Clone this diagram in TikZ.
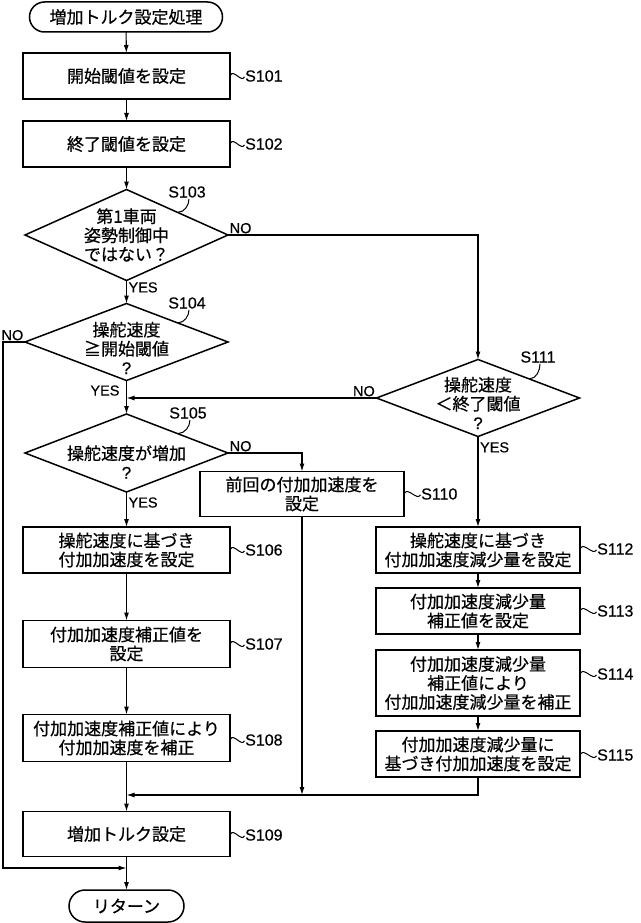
\documentclass[tikz,border=0pt]{standalone}
\usepackage{fontspec}
\setmainfont{Noto Sans CJK JP}[FakeBold=0.6]
\newfontfamily\labelfont{Liberation Sans}[FakeBold=0.4]
\usetikzlibrary{shapes.geometric,arrows.meta,calc}

\tikzset{
  proc/.style={draw, line width=1.5pt, minimum width=207pt, minimum height=46pt,
    inner sep=0pt, outer sep=0pt, align=center, font=\fontsize{17pt}{19pt}\selectfont},
  term/.style={draw, line width=1.5pt, rounded corners=15pt, minimum height=30pt,
    inner sep=0pt, outer sep=0pt, font=\fontsize{17pt}{19pt}\selectfont},
  decision/.style={draw, diamond, line width=1.5pt, inner sep=0pt, outer sep=0pt},
  dtext/.style={inner sep=0pt, align=center, font=\fontsize{17pt}{19pt}\selectfont},
  flow/.style={line width=1.1pt, -{Latex[length=8pt,width=5pt]}},
  lead/.style={line width=1pt, shorten <=1pt, shorten >=1pt},
  steplabel/.style={font=\labelfont\fontsize{16pt}{16pt}\selectfont, inner sep=0pt, anchor=west},
  yesno/.style={font=\labelfont\fontsize{14.5pt}{14.5pt}\selectfont, inner sep=1.5pt},
}

\begin{document}
\begin{tikzpicture}[x=1pt, y=1pt]
    \useasboundingbox (0,0) rectangle (640,-923);

    % Main column
    \node[term, minimum width=193pt] (start) at (126,-17) {増加トルク設定処理};
    \node[proc] (s101) at (126.5,-76) {開始閾値を設定};
    \node[proc] (s102) at (126.5,-144) {終了閾値を設定};

    \node[decision, minimum width=203pt, minimum height=91pt] (s103) at (126.5,-235) {};
    \node[dtext] (t103) at (126.5,-235) {第1車両\\姿勢制御中\\ではない？};

    \node[decision, minimum width=203pt, minimum height=77pt] (s104) at (126.5,-342) {};
    \node[dtext] (t104) at (126.5,-348) {操舵速度\\≧開始閾値\\{\labelfont ?}};

    \node[decision, minimum width=203pt, minimum height=78pt] (s105) at (126.5,-453) {};
    \node[dtext] (t105) at (126.5,-462) {操舵速度が増加\\{\labelfont ?}};

    \node[proc] (s106) at (126.5,-550) {操舵速度に基づき\\付加加速度を設定};
    \node[proc, minimum height=47pt] (s107) at (126.5,-644) {付加加速度補正値を\\設定};
    \node[proc, minimum height=47pt] (s108) at (126.5,-738) {付加加速度補正値により\\付加加速度を補正};
    \node[proc, minimum height=45pt] (s109) at (126.5,-834) {増加トルク設定};
    \node[term, minimum width=115pt, minimum height=32pt, rounded corners=16pt] (ret) at (126.5,-906) {リターン};

    % Middle and right columns
    \node[proc, minimum width=204pt, minimum height=45pt] (s110) at (302,-494) {前回の付加加速度を\\設定};

    \node[decision, minimum width=203pt, minimum height=77pt] (s111) at (478,-398) {};
    \node[dtext] (t111) at (478,-403) {操舵速度\\＜終了閾値\\{\labelfont ?}};

    \node[proc, minimum width=204pt] (s112) at (478,-550) {操舵速度に基づき\\付加加速度減少量を設定};
    \node[proc, minimum width=204pt] (s113) at (478,-611) {付加加速度減少量\\補正値を設定};
    \node[proc, minimum width=204pt, minimum height=66pt] (s114) at (478,-683) {付加加速度減少量\\補正値により\\付加加速度減少量を補正};
    \node[proc, minimum width=204pt] (s115) at (478,-754) {付加加速度減少量に\\基づき付加加速度を設定};

    % Step numbers
    \node[steplabel] (l101) at (245,-76) {S101};
    \node[steplabel] (l102) at (245,-144) {S102};
    \node[steplabel] (l106) at (245,-550) {S106};
    \node[steplabel] (l107) at (245,-644) {S107};
    \node[steplabel] (l108) at (245,-740) {S108};
    \node[steplabel] (l109) at (245,-835) {S109};
    \node[steplabel] (l110) at (421,-494) {S110};
    \node[steplabel] (l112) at (597,-549) {S112};
    \node[steplabel] (l113) at (597,-611) {S113};
    \node[steplabel] (l114) at (597,-674) {S114};
    \node[steplabel] (l115) at (597,-755) {S115};
    \foreach \n in {101,102,106,107,108,109,110,112,113,114,115}
        \draw[lead] (s\n.east |- l\n.west) .. controls +(4,7) and +(-4,-7) .. (l\n.west);

    \node[steplabel, anchor=center] (l103) at (187,-192) {S103};
    \node[steplabel, anchor=center] (l104) at (187,-303) {S104};
    \node[steplabel, anchor=center] (l105) at (188,-413) {S105};
    \node[steplabel, anchor=center] (l111) at (538,-357) {S111};
    \foreach \n in {103,104,105,111}
        \draw[lead] ($(s\n.north)!0.5!(s\n.east)$) to[out=0, in=-90] ([xshift=2pt]l\n.south);

    % Junction points
    \coordinate (m1) at (s104.south |- s111.west);
    \coordinate (m2) at (126.5,-868);
    \coordinate (m3) at (302,-795);
    \coordinate (m4) at (126.5,-795);

    % Connectors
    \draw[flow] (start) -- (s101);
    \draw[flow] (s101) -- (s102);
    \draw[flow] (s102) -- (s103);
    \draw[flow] (s103) -- node[yesno, right, pos=0.3] (y103) {YES} (s104);
    \draw[flow] (s103.east) -| (s111.north);
    \node[yesno, anchor=south west] (n103) at (s103.east) {NO};

    \draw[flow] (s104) -- node[yesno, left, pos=0.3, xshift=-5pt] (y104) {YES} (s105);
    \draw[flow] (s104.west) -- ++(-22,0) |- (m2);
    \node[yesno, anchor=south east] (n104) at (s104.west) {NO};

    \draw[flow] (s111.west) -- (m1);
    \node[yesno, anchor=south east] (n111) at (s111.west) {NO};

    \draw[flow] (s105) -- node[yesno, right, pos=0.3] (y105) {YES} (s106);
    \draw[flow] (s105.east) -| (s110.north);
    \node[yesno, anchor=south west] (n105) at (s105.east) {NO};

    \draw[flow] (s106) -- (s107);
    \draw[flow] (s107) -- (s108);
    \draw[flow] (s108) -- (s109);
    \draw[flow] (s110) -- (m3);

    \draw[flow] (s111) -- node[yesno, right, pos=0.12] (y111) {YES} (s112);
    \draw[flow] (s112) -- (s113);
    \draw[flow] (s113) -- (s114);
    \draw[flow] (s114) -- (s115);
    \draw[flow] (s115.south) |- (m4);

    \draw[flow] (s109) -- (ret);
\end{tikzpicture}
\end{document}
